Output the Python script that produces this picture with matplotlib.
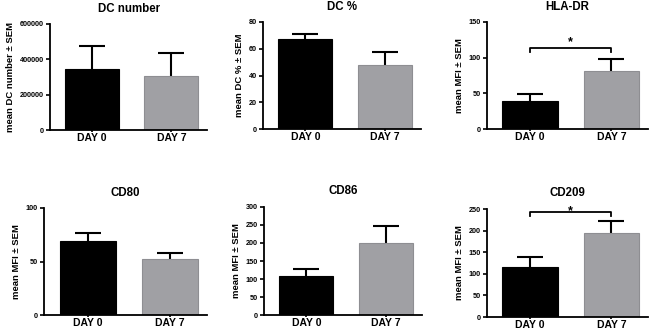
import matplotlib.pyplot as plt

plt.rcParams['font.family'] = ['Liberation Sans', 'DejaVu Sans']
plt.rcParams['font.weight'] = 'bold'

days = ["DAY 0", "DAY 7"]
titles = ["DC number", "DC %", "HLA-DR", "CD80", "CD86", "CD209"]
ylabels = ["mean DC number \u00b1 SEM", "mean DC % \u00b1 SEM", "mean MFI \u00b1 SEM",
           "mean MFI \u00b1 SEM", "mean MFI \u00b1 SEM", "mean MFI \u00b1 SEM"]
means = [[343000, 305000], [67.2, 48.0], [38.9, 81.6],
         [69.5, 52.6], [109, 201], [116.5, 194]]
sems = [[134000, 129000], [3.5, 9.2], [10.3, 16.4],
        [7.1, 5.7], [17.7, 47], [22.5, 28.8]]
ylims = [600000, 80, 150, 100, 300, 250]
ysteps = [200000, 20, 50, 50, 50, 50]
# significance bracket: (bracket height, drop, star height)
signif = {2: (113, 4.5, 127.5), 5: (243, 9.5, 254)}

W, H = 650, 331
# axes boxes in pixels: left, top, right, bottom
boxes = [(50, 24, 207, 130), (263, 22, 421, 129), (487, 22, 648, 129),
         (44, 208, 207, 315), (264, 207, 422, 315), (487, 209, 648, 317)]

fig = plt.figure(figsize=(6.5, 3.31), dpi=100, facecolor='w')

for i in range(6):
    l, t, r, b = boxes[i]
    ax = fig.add_axes([l / W, 1 - b / H, (r - l) / W, (b - t) / H])
    ax.bar([0, 1], means[i], width=0.68, color=['black', '#a0a0a4'],
           edgecolor=['black', '#8e8e92'], linewidth=0.8, zorder=2)
    eb = ax.errorbar([0, 1], means[i], yerr=[[0, 0], sems[i]], fmt='none',
                     ecolor='black', elinewidth=1.5, capsize=9.5, capthick=1.5, zorder=1)
    eb[1][0].set_visible(False)  # no lower caps
    ax.set_xlim(-0.53, 1.45)
    ax.set_ylim(0, ylims[i])
    ax.set_yticks(range(0, ylims[i] + 1, ysteps[i]))
    ax.set_xticks([0, 1])
    ax.set_xticklabels(days, fontsize=7.5, fontweight='bold')
    ax.tick_params(axis='x', length=1.5, width=1.2, pad=0.5)
    ax.tick_params(axis='y', length=3, width=1.2, labelsize=5.2, pad=1.5)
    for lab in ax.get_yticklabels():
        lab.set_fontweight('bold')
    ax.spines['top'].set_visible(False)
    ax.spines['right'].set_visible(False)
    ax.spines['left'].set_linewidth(1.3)
    ax.spines['bottom'].set_linewidth(1.3)
    ax.set_title(titles[i], fontsize=8.3, fontweight='bold', pad=9)
    ax.set_ylabel(ylabels[i], fontsize=6.8, fontweight='bold', labelpad=3)
    if i in signif:
        yb, d, ys = signif[i]
        ax.plot([0, 0, 1, 1], [yb - d, yb, yb, yb - d], color='black', lw=1.3,
                clip_on=False)
        ax.annotate('*', (0.5, ys), xytext=(0, -5), textcoords='offset points',
                    ha='center', va='baseline', fontsize=9, fontweight='bold',
                    annotation_clip=False)

fig.savefig('out.png', dpi=100)
